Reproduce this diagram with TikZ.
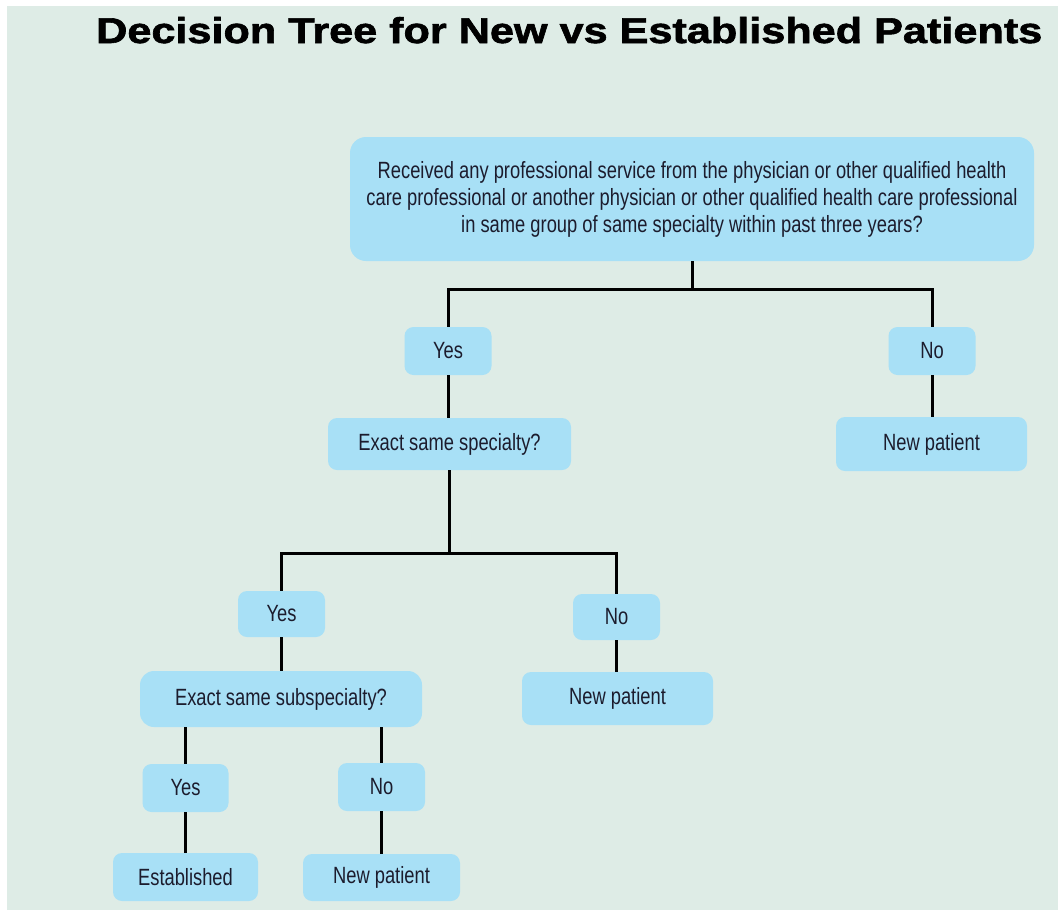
\documentclass[tikz,border=0pt]{standalone}
\usepackage{fontspec}
\setmainfont{Liberation Sans}
\newfontfamily\cond{Liberation Sans}[FakeStretch=0.78]
\newfontfamily\titlefont{Liberation Sans Bold}[FakeBold=1.6]
\definecolor{bg}{RGB}{222,236,230}
\definecolor{boxblue}{RGB}{168,224,246}
\definecolor{txt}{RGB}{28,28,45}
\tikzset{
  box/.style={fill=boxblue, rounded corners=9pt, inner sep=0pt, align=center,
    text=txt, font=\cond\fontsize{23.5}{27}\selectfont},
  conn/.style={line width=3pt, draw=black}
}
\begin{document}
\begin{tikzpicture}[x=1pt,y=-1pt]
\useasboundingbox (0,0) rectangle (1058,911);
\fill[white] (0,0) rectangle (1058,911);
\fill[bg] (7,6) rectangle (1058,910);
\node[anchor=base west, inner sep=0pt] (title) at (96,43)
  {\resizebox{946pt}{26pt}{\titlefont Decision Tree for New vs Established Patients}};
\node[box, rounded corners=16pt, minimum width=684pt, minimum height=124pt] (top) at (692,199)
  {Received any professional service from the physician or other qualified health\\
   care professional or another physician or other qualified health care professional\\
   in same group of same specialty within past three years?};
\node[box, minimum width=87pt, minimum height=48pt] (yes1) at (448,351) {Yes};
\node[box, minimum width=87pt, minimum height=48pt] (no1) at (932,351) {No};
\node[box, minimum width=191pt, minimum height=54pt] (np1) at (931.5,444) {New patient};
\node[box, minimum width=243pt, minimum height=52pt] (spec) at (449.5,444) {Exact same specialty?};
\node[box, minimum width=87pt, minimum height=46pt] (yes2) at (281.5,614) {Yes};
\node[box, minimum width=87pt, minimum height=46pt] (no2) at (616.5,617) {No};
\node[box, minimum width=191pt, minimum height=53pt] (np2) at (617.5,698.5) {New patient};
\node[box, rounded corners=14pt, minimum width=282pt, minimum height=56pt] (sub) at (281,699) {Exact same subspecialty?};
\node[box, minimum width=86pt, minimum height=48pt] (yes3) at (185.5,788) {Yes};
\node[box, minimum width=87pt, minimum height=48pt] (no3) at (381.5,787) {No};
\node[box, minimum width=145pt, minimum height=48pt] (est) at (185.5,877) {Established};
\node[box, minimum width=157pt, minimum height=47pt] (np3) at (381.5,877.5) {New patient};
% connectors
\draw[conn] (top.south) -- ++(0,28) coordinate (j1);
\draw[conn] (yes1.north) |- (j1) -| (no1.north);
\draw[conn] (yes1.south) -- (yes1.south |- spec.north);
\draw[conn] (no1.south) -- (no1.south |- np1.north);
\draw[conn] (spec.south) -- ++(0,83) coordinate (j2);
\draw[conn] (yes2.north) |- (j2) -| (no2.north);
\draw[conn] (yes2.south) -- (yes2.south |- sub.north);
\draw[conn] (no2.south) -- (no2.south |- np2.north);
\draw[conn] (yes3.north |- sub.south) -- (yes3.north);
\draw[conn] (no3.north |- sub.south) -- (no3.north);
\draw[conn] (yes3.south) -- (yes3.south |- est.north);
\draw[conn] (no3.south) -- (no3.south |- np3.north);
\end{tikzpicture}
\end{document}
